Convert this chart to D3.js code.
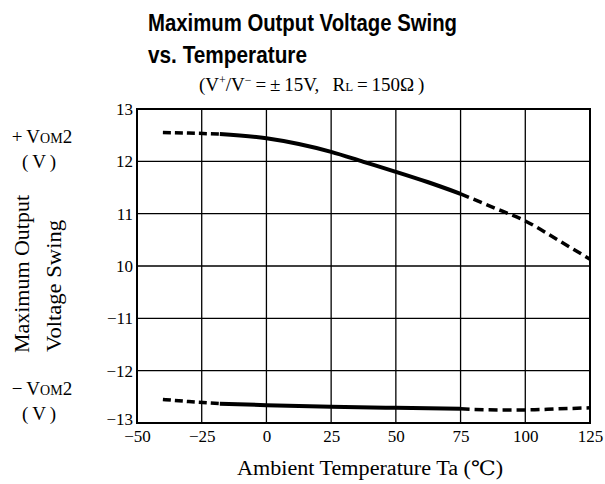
<!DOCTYPE html>
<html><head><meta charset="utf-8">
<script src="https://cdn.jsdelivr.net/npm/d3@7"></script>
<style>body{margin:0;background:#fff}svg{display:block}</style>
</head><body><svg id="c" width="605" height="484"></svg>
<script>
// ---- data ----
const xTicks = [-50, -25, 0, 25, 50, 75, 100, 125];
const upperTicks = [13, 12, 11, 10];
const lowerTicks = [-11, -12, -13];
const tempsUpper = [-40, -30, -18, 0, 12.5, 25, 37.5, 50, 62.5, 75, 87.5, 100, 112.5, 125];
const vomPlus   = [12.55, 12.54, 12.52, 12.44, 12.33, 12.18, 11.99, 11.8, 11.6, 11.38, 11.12, 10.86, 10.5, 10.13];
const tempsLower = [-40, -30, -18, 0, 25, 50, 75, 90, 100, 112.5, 125];
const vomMinus  = [-12.55, -12.59, -12.63, -12.66, -12.69, -12.71, -12.73, -12.75, -12.75, -12.73, -12.71];
const solidRange = [-18, 75];

const svg = d3.select("#c");
const L = 137, R = 590, T = 109, B = 423;
const rowH = (B - T) / 6;
const x = d3.scaleLinear().domain([-50, 125]).range([L, R]);
const yU = d3.scaleLinear().domain([13, 10]).range([T, T + 3 * rowH]);
const yL = d3.scaleLinear().domain([-11, -13]).range([T + 4 * rowH, B]);

const serif = "'Liberation Serif','DejaVu Serif',serif";
const sans = "'Liberation Sans',Arial,sans-serif";

// grid
const g = svg.append("g");
xTicks.forEach(t => g.append("line").attr("x1", x(t)).attr("x2", x(t)).attr("y1", T).attr("y2", B)
  .attr("stroke", "#000").attr("stroke-width", 1.3));
upperTicks.forEach(t => g.append("line").attr("x1", L).attr("x2", R).attr("y1", yU(t)).attr("y2", yU(t))
  .attr("stroke", "#000").attr("stroke-width", 1.3));
lowerTicks.forEach(t => g.append("line").attr("x1", L).attr("x2", R).attr("y1", yL(t)).attr("y2", yL(t))
  .attr("stroke", "#000").attr("stroke-width", 1.3));
g.append("rect").attr("x", L).attr("y", T).attr("width", R - L).attr("height", B - T)
  .attr("fill", "none").attr("stroke", "#000").attr("stroke-width", 2);

// axis labels via d3 axes
const minus = d => d < 0 ? "\u2212" + Math.abs(d) : String(d);
const axL = d3.axisLeft(yU).tickValues(upperTicks).tickSize(0).tickPadding(4).tickFormat(minus);
const axL2 = d3.axisLeft(yL).tickValues(lowerTicks).tickSize(0).tickPadding(4).tickFormat(minus);
const axB = d3.axisBottom(x).tickValues(xTicks).tickSize(0).tickPadding(5).tickFormat(minus);
[svg.append("g").attr("transform", `translate(${L},0)`).call(axL),
 svg.append("g").attr("transform", `translate(${L},0)`).call(axL2)].forEach(a => {
  a.select(".domain").remove();
  a.selectAll("text").attr("font-family", serif).attr("font-size", 17).attr("fill", "#000");
});
svg.selectAll("text").filter(function(){ return this.textContent === "\u221213"; }).attr("dy", "0.1em");
const bx = svg.append("g").attr("transform", `translate(0,${B})`).call(axB);
bx.select(".domain").remove();
bx.selectAll("text").attr("font-family", serif).attr("font-size", 17).attr("fill", "#000").attr("dy", "0.85em");

// curves
function drawSeries(temps, vals, ys) {
  const pts = temps.map((t, i) => [t, vals[i]]);
  const line = d3.line().x(d => x(d[0])).y(d => ys(d[1])).curve(d3.curveMonotoneX);
  const seg = (a, b) => pts.filter(p => p[0] >= a && p[0] <= b);
  svg.append("path").attr("d", line(seg(-50, solidRange[0]))).attr("fill", "none")
    .attr("stroke", "#000").attr("stroke-width", 3.5).attr("stroke-dasharray", "8,4");
  svg.append("path").attr("d", line(seg(solidRange[0], solidRange[1]))).attr("fill", "none")
    .attr("stroke", "#000").attr("stroke-width", 4);
  svg.append("path").attr("d", line(seg(solidRange[1], 125))).attr("fill", "none")
    .attr("stroke", "#000").attr("stroke-width", 3.5).attr("stroke-dasharray", "9,5");
}
drawSeries(tempsUpper, vomPlus, yU);
drawSeries(tempsLower, vomMinus, yL);

// titles
svg.append("text").attr("x", 148).attr("y", 31).attr("font-family", sans).attr("font-weight", "bold")
  .attr("font-size", 23).attr("textLength", 309).attr("lengthAdjust", "spacingAndGlyphs").text("Maximum Output Voltage Swing");
svg.append("text").attr("x", 148).attr("y", 63).attr("font-family", sans).attr("font-weight", "bold")
  .attr("font-size", 23).attr("textLength", 159).attr("lengthAdjust", "spacingAndGlyphs").text("vs. Temperature");
const sub = svg.append("text").attr("x", 199).attr("y", 91).attr("font-family", serif).attr("font-size", 19);
sub.append("tspan").text("(V");
sub.append("tspan").attr("font-size", 12).attr("dy", -7).text("+");
sub.append("tspan").attr("dy", 7).text("/V");
sub.append("tspan").attr("font-size", 12).attr("dy", -7).text("\u2212");
sub.append("tspan").attr("dy", 7).text("\u2009=\u2009\u00b1\u200915V,\u2002\u2009R");
sub.append("tspan").attr("font-size", 13).text("L");
sub.append("tspan").text("\u2009=\u2009150\u03a9\u2009)");

// left labels
function vom(y, sign) {
  const t = svg.append("text").attr("x", 42).attr("y", y).attr("text-anchor", "middle")
    .attr("font-family", serif).attr("font-size", 19);
  t.append("tspan").text(sign + "\u2009V");
  t.append("tspan").attr("font-size", 14).text("OM");
  t.append("tspan").text("2");
  svg.append("text").attr("x", 39).attr("y", y + 25).attr("text-anchor", "middle")
    .attr("font-family", serif).attr("font-size", 19).text("(\u2009V\u2009)");
}
vom(143, "+");
vom(395, "\u2212");
svg.append("text").attr("transform", "translate(29,274) rotate(-90)").attr("text-anchor", "middle")
  .attr("font-family", serif).attr("font-size", 20).attr("textLength", 158).attr("lengthAdjust", "spacingAndGlyphs")
  .text("Maximum Output");
svg.append("text").attr("transform", "translate(61,286) rotate(-90)").attr("text-anchor", "middle")
  .attr("font-family", serif).attr("font-size", 20).attr("textLength", 132).attr("lengthAdjust", "spacingAndGlyphs")
  .text("Voltage Swing");

svg.append("text").attr("x", 370).attr("y", 475).attr("text-anchor", "middle")
  .attr("font-family", serif).attr("font-size", 20).attr("textLength", 266).attr("lengthAdjust", "spacingAndGlyphs")
  .text("Ambient Temperature Ta (\u2103)");
</script></body></html>
